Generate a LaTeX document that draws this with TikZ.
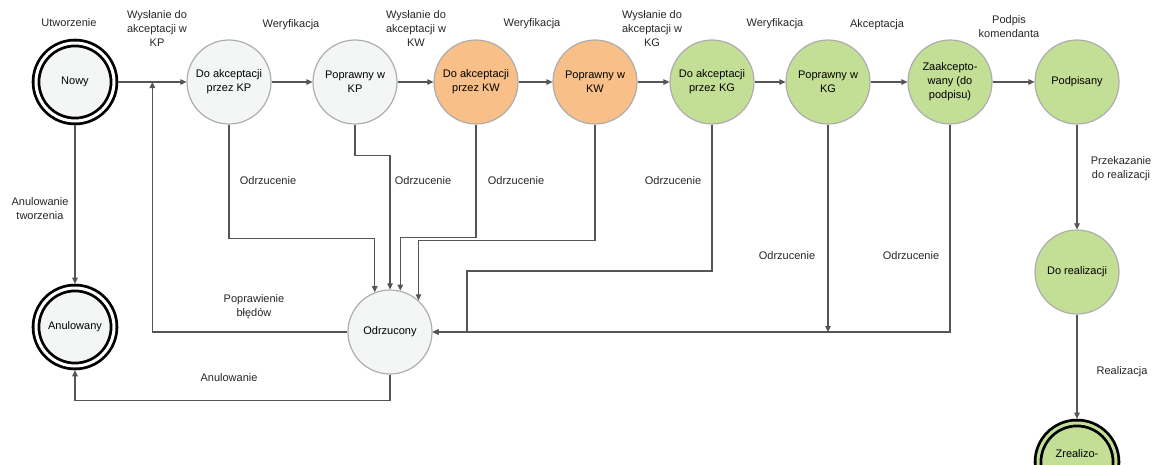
\documentclass[tikz,border=0pt]{standalone}
\usepackage{fontspec}
\setmainfont{Liberation Sans}
\usetikzlibrary{arrows.meta,calc}
\definecolor{jasny}{HTML}{F4F6F6}
\definecolor{obrys}{HTML}{ADADAD}
\definecolor{pomarancz}{HTML}{F8BF88}
\definecolor{zielony}{HTML}{C3DF96}
\definecolor{linia}{HTML}{555555}
\newcommand{\etyk}{\fontsize{11}{14}\selectfont}

\begin{document}
\begin{tikzpicture}[x=1pt,y=-1pt,
  stan/.style={circle, draw=obrys, fill=jasny, line width=1.2pt, minimum size=84pt, inner sep=0pt, align=center, font=\etyk},
  koniec/.style={stan, draw=black, double=white, line width=2.8pt, double distance=3pt, minimum size=78pt, outer sep=4.3pt},
  arr/.style={draw=linia, line width=1.1pt, -{Triangle[length=6pt,width=5.5pt]}},
  lbl/.style={align=center, inner sep=0pt, text=black!85, font=\etyk}]
\useasboundingbox (0,0) rectangle (1161,464);
\clip (0,0) rectangle (1161,464);

\node[koniec] (nowy) at (75,82) {Nowy};
\node[stan] (kp) at (229,82) {Do akceptacji\\przez KP};
\node[stan] (pkp) at (355,82) {Poprawny w\\KP};
\node[stan, fill=pomarancz] (kw) at (476,82) {Do akceptacji\\przez KW};
\node[stan, fill=pomarancz] (pkw) at (595,82) {Poprawny w\\KW};
\node[stan, fill=zielony] (kg) at (712,82) {Do akceptacji\\przez KG};
\node[stan, fill=zielony] (pkg) at (828,82) {Poprawny w\\KG};
\node[stan, fill=zielony] (zaak) at (950,82) {Zaakcepto-\\wany (do\\podpisu)};
\node[stan, fill=zielony] (podp) at (1077,82) {Podpisany};
\node[stan, fill=zielony] (dorea) at (1077,272) {Do realizacji};
\node[koniec, fill=zielony, double=zielony] (zreal) at (1077,462) {Zrealizo-\\wany};
\node[koniec] (anul) at (75,327) {Anulowany};
\node[stan] (odrz) at (390,332) {Odrzucony};
\coordinate (popr) at ($(nowy.east)!0.5!(kp.west)$);

\draw[arr] (nowy) -- (kp);
\draw[arr] (kp) -- (pkp);
\draw[arr] (pkp) -- (kw);
\draw[arr] (kw) -- (pkw);
\draw[arr] (pkw) -- (kg);
\draw[arr] (kg) -- (pkg);
\draw[arr] (pkg) -- (zaak);
\draw[arr] (zaak) -- (podp);
\draw[arr] (podp) -- (dorea);
\draw[arr] (dorea) -- (zreal);
\draw[arr] (nowy) -- (anul);
\draw[arr] (odrz.south) -- ++(0,26) -| (anul.south);
\draw[arr] (odrz.west) -| (popr);

\draw[arr] (kp.south) -- ++(0,114) -| (odrz.111);
\draw[arr] (pkp.south) -- ++(0,31) -| (odrz.north);
\draw[arr] (kw.south) -- ++(0,113) -| (odrz.76);
\draw[arr] (pkw.south) -- ++(0,116) -| (odrz.48);
\draw[arr] (kg.south) |- (467,271) |- (odrz.east);
\draw[arr] (pkg.south) -- (pkg.south |- odrz.east);
\draw[arr] (zaak.south) |- (odrz.east);

\node[lbl] (l1) at (69,23) {Utworzenie};
\node[lbl] (l2) at (157,29) {Wysłanie do\\akceptacji w\\KP};
\node[lbl] (l3) at (291,25) {Weryfikacja};
\node[lbl] (l4) at (416,29) {Wysłanie do\\akceptacji w\\KW};
\node[lbl] (l5) at (532,24) {Weryfikacja};
\node[lbl] (l6) at (652,29) {Wysłanie do\\akceptacji w\\KG};
\node[lbl] (l7) at (775,24) {Weryfikacja};
\node[lbl] (l8) at (877,25) {Akceptacja};
\node[lbl] (l9) at (1009,27) {Podpis\\komendanta};
\node[lbl] (l10) at (1121,169) {Przekazanie\\do realizacji};
\node[lbl] (l11) at (1122,372) {Realizacja};
\node[lbl] (l12) at (40,209) {Anulowanie\\tworzenia};
\node[lbl] (l13) at (229,378) {Anulowanie};
\node[lbl] (l14) at (254,307) {Poprawienie\\błędów};
\node[lbl] (o1) at (268,181) {Odrzucenie};
\node[lbl] (o2) at (423,181) {Odrzucenie};
\node[lbl] (o3) at (516,181) {Odrzucenie};
\node[lbl] (o4) at (673,181) {Odrzucenie};
\node[lbl] (o5) at (787,256) {Odrzucenie};
\node[lbl] (o6) at (911,256) {Odrzucenie};
\end{tikzpicture}
\end{document}
